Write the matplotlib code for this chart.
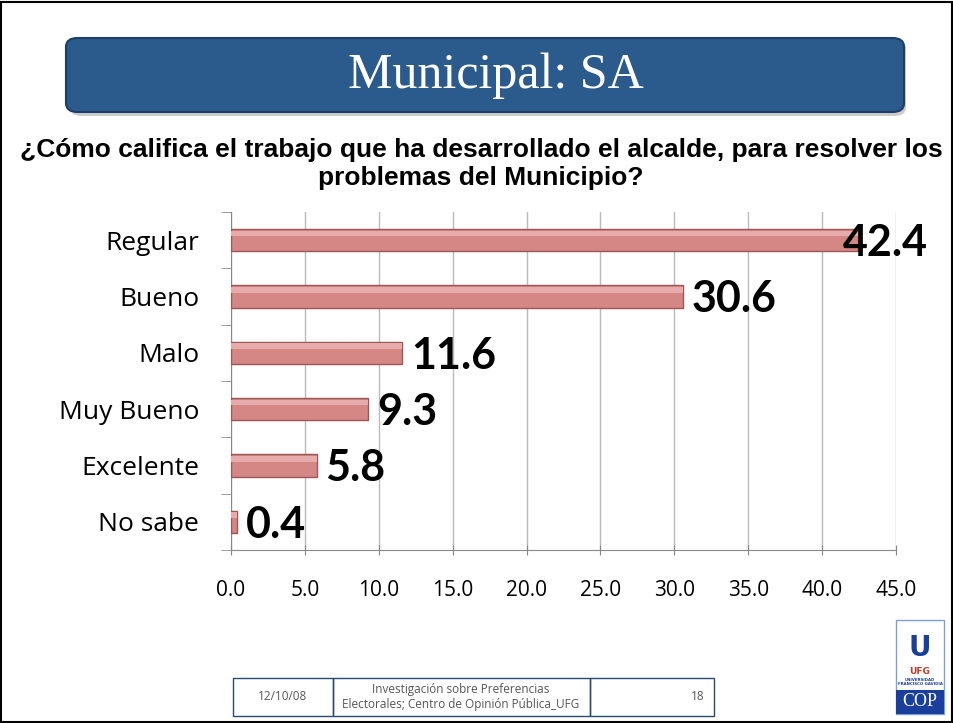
import matplotlib.pyplot as plt
from matplotlib.patches import FancyBboxPatch, Rectangle
import numpy as np

categorias = ['Regular', 'Bueno', 'Malo', 'Muy Bueno', 'Excelente', 'No sabe']
valores = [42.4, 30.6, 11.6, 9.3, 5.8, 0.4]
ticks_x = [0, 5, 10, 15, 20, 25, 30, 35, 40, 45]

fig = plt.figure(figsize=(9.54, 7.23), dpi=100)
W, H = 954, 723

# marco de la diapositiva
fig.patches.append(Rectangle((1/W, 1/H), 1 - 3/W, 1 - 3/H, transform=fig.transFigure,
                             fill=False, edgecolor='black', linewidth=1.5))

# caja del titulo (sombra + caja)
fig.patches.append(FancyBboxPatch((70/W, 1 - 116/H), 836/W, 76/H, transform=fig.transFigure,
                                  boxstyle='round,pad=0,rounding_size=0.012',
                                  facecolor='#9a9a9a', edgecolor='none', alpha=0.5))
fig.patches.append(FancyBboxPatch((66/W, 1 - 112/H), 838/W, 74/H, transform=fig.transFigure,
                                  boxstyle='round,pad=0,rounding_size=0.012',
                                  facecolor='#2b5a8c', edgecolor='#1d3f66', linewidth=1.5))
fig.text(496/W, 1 - 88/H, 'Municipal: SA', ha='center', va='baseline', color='white',
         fontsize=36, family='Liberation Serif')

pregunta = ['¿Cómo califica el trabajo que ha desarrollado el alcalde, para resolver los',
            'problemas del Municipio?']
for linea, yb in zip(pregunta, [157, 185]):
    fig.text(481/W, 1 - yb/H, linea, ha='center', va='baseline', fontsize=19,
             fontweight='bold', family='Liberation Sans')

ax = fig.add_axes([231/W, 1 - 550/H, (896 - 231)/W, (550 - 212)/H])
y = np.arange(len(categorias))
ax.barh(y, valores, height=0.4, color='#d58786', edgecolor='#9c5656', linewidth=1, zorder=3)
# brillo superior de las barras
ax.barh(y - 0.12, valores, height=0.1, color='#e6abaa', edgecolor='none', zorder=3.5)
for yi, v in zip(y, valores):
    xt = min(v + 0.6, 41.4)
    ax.text(xt, yi + 0.05, f'{v:.1f}', va='center', ha='left', fontsize=31,
            fontweight='bold', family='Lato', zorder=4, clip_on=False)

ax.set_xlim(0, 45)
ax.set_ylim(len(categorias) - 0.5, -0.5)
ax.set_xticks(ticks_x)
ax.set_xticklabels([f'{t:.1f}' for t in ticks_x], family='Open Sans', fontsize=15)
ax.set_yticks(y)
ax.set_yticklabels(categorias, family='Open Sans', fontsize=19)
ax.set_yticks(np.arange(len(categorias) + 1) - 0.5, minor=True)
ax.tick_params(axis='y', which='major', length=0, pad=23)
ax.tick_params(axis='y', which='minor', length=7, color='#888888', direction='out')
ax.tick_params(axis='x', length=7, color='#888888', direction='inout', pad=18)
ax.grid(axis='x', color='#bbbbbb', linewidth=1, zorder=0)
for s in ['top', 'right']:
    ax.spines[s].set_visible(False)
ax.spines['left'].set_color('#888888')
ax.spines['bottom'].set_color('#888888')

# pie de pagina
for x0, w in [(233, 100), (333, 257), (590, 124)]:
    fig.patches.append(Rectangle((x0/W, 1 - 716/H), w/W, 38/H, transform=fig.transFigure,
                                 fill=False, edgecolor='#2b4a70', linewidth=1))
fig.text(283/W, 1 - 697/H, '12/10/08', ha='center', va='center', fontsize=8.5, color='#555555', family='Open Sans')
fig.text(461/W, 1 - 697/H, 'Investigación sobre Preferencias\nElectorales; Centro de Opinión Pública_UFG',
         ha='center', va='center', fontsize=8.5, color='#555555', family='Open Sans', linespacing=1.2)
fig.text(705/W, 1 - 697/H, '18', ha='right', va='center', fontsize=8.5, color='#555555', family='Open Sans')

# logo
fig.patches.append(Rectangle((896/W, 1 - 714/H), 48/W, 94/H, transform=fig.transFigure,
                             facecolor='white', edgecolor='#7f9fcc', linewidth=1))
fig.patches.append(Rectangle((896/W, 1 - 714/H), 48/W, 24/H, transform=fig.transFigure,
                             facecolor='#1a3e9c', edgecolor='none'))
fig.text(920/W, 1 - 702/H, 'COP', ha='center', va='center', color='white', fontsize=13, family='Liberation Serif')
fig.text(920/W, 1 - 648/H, 'U', ha='center', va='center', color='#1a3e9c', fontsize=20, fontweight='bold')
fig.text(920/W, 1 - 672/H, 'UFG', ha='center', va='center', color='#c0392b', fontsize=6.5, fontweight='bold')
fig.text(920/W, 1 - 682/H, 'UNIVERSIDAD\nFRANCISCO GAVIDIA', ha='center', va='center', color='#1a3e9c',
         fontsize=2.8, fontweight='bold')

fig.savefig('out.png', dpi=100)
